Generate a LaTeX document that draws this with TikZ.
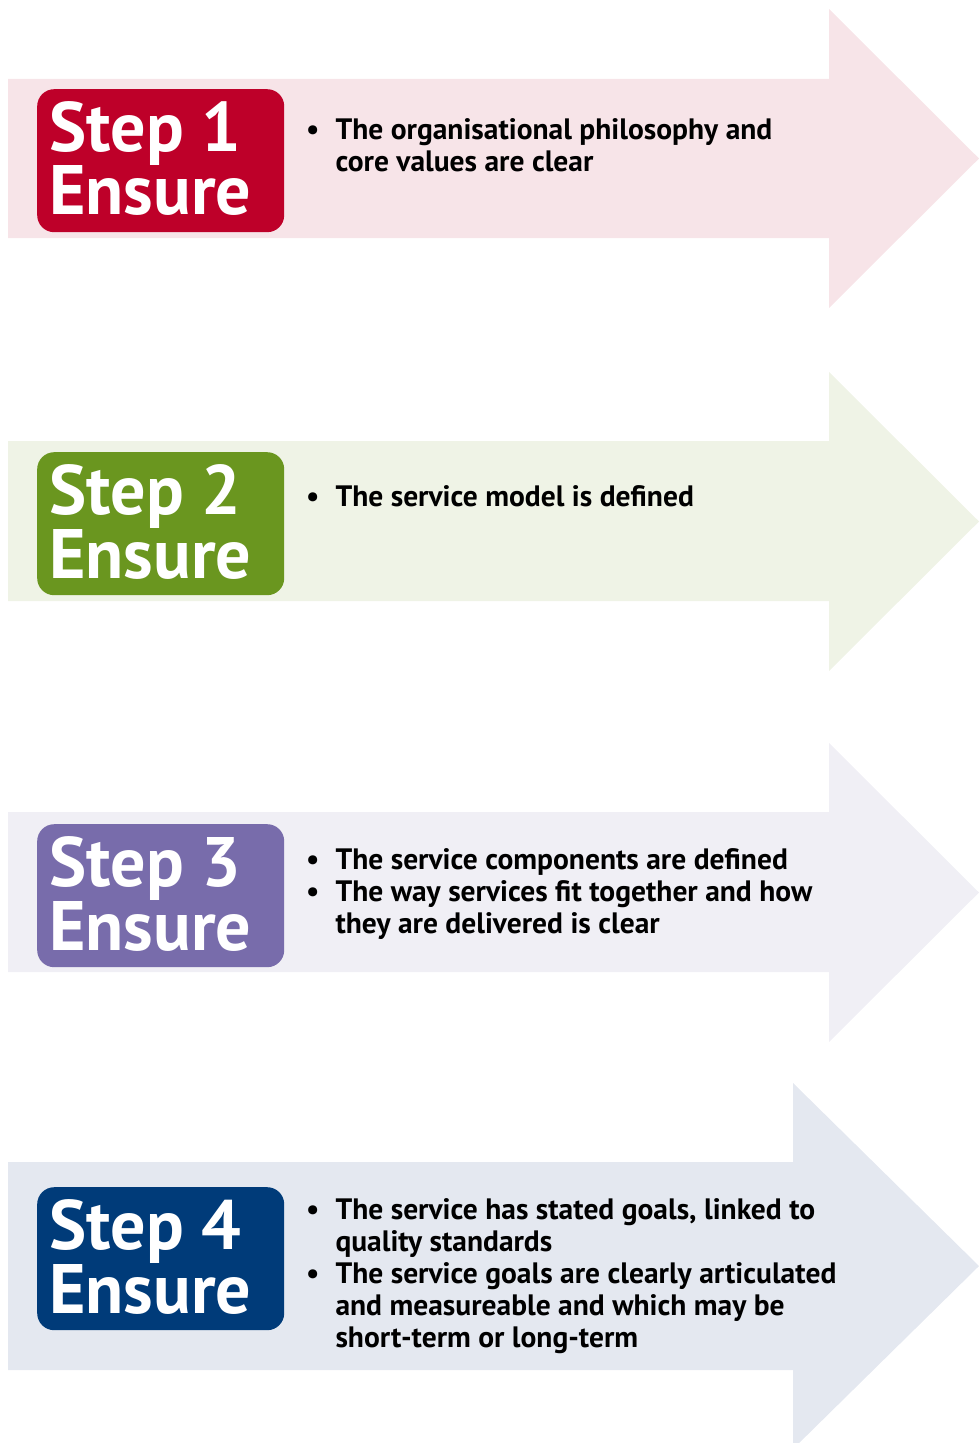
\documentclass[tikz,border=0pt]{standalone}
\usepackage{fontspec}
\setmainfont{PT Sans}
\usetikzlibrary{calc}
\definecolor{c1}{HTML}{BE0029}
\definecolor{b1}{HTML}{F7E4E8}
\definecolor{c2}{HTML}{6A961F}
\definecolor{b2}{HTML}{EFF3E6}
\definecolor{c3}{HTML}{786CAB}
\definecolor{b3}{HTML}{F0EFF5}
\definecolor{c4}{HTML}{003B79}
\definecolor{b4}{HTML}{E4E8F0}
\newcommand{\blist}[1]{\begin{tabular}[t]{@{}l@{\hspace{16bp}}l@{}}#1\end{tabular}}
\tikzset{
  stepbox/.style={draw=none, rounded corners=17bp, minimum width=247bp, minimum height=143bp, inner sep=0pt, anchor=north west},
  steptext/.style={text=white, font=\bfseries\fontsize{70bp}{59bp}\selectfont, anchor=base west, inner sep=0pt, align=left},
  bullettext/.style={text=black, font=\bfseries\fontsize{29.5bp}{32bp}\selectfont, anchor=base west, inner sep=0pt},
}
\begin{document}
\begin{tikzpicture}[x=1bp,y=-1bp]
\useasboundingbox (0,0) rectangle (979,1443);
\clip (0,0) rectangle (979,1443);
% arrows
\fill[b1] (8,79) -- (829,79) -- (829,9) -- (979,158.5) -- (829,308) -- (829,238) -- (8,238) -- cycle;
\fill[b2] (8,441) -- (829,441) -- (829,372) -- (979,521.5) -- (829,671) -- (829,601) -- (8,601) -- cycle;
\fill[b3] (8,812) -- (829,812) -- (829,743) -- (979,892.5) -- (829,1042) -- (829,972) -- (8,972) -- cycle;
\fill[b4] (8,1162) -- (793,1162) -- (793,1083) -- (979,1266) -- (793,1449) -- (793,1370) -- (8,1370) -- cycle;
% step boxes
\node[stepbox, fill=c1] (box1) at (37,89) {};
\node[stepbox, fill=c2] (box2) at (37,452) {};
\node[stepbox, fill=c3] (box3) at (37,824) {};
\node[stepbox, fill=c4] (box4) at (37,1187) {};
\node[steptext] (st1) at ($(box1.north west)+(12,126)$) {Step 1\\Ensure};
\node[steptext] (st2) at ($(box2.north west)+(12,126)$) {Step 2\\Ensure};
\node[steptext] (st3) at ($(box3.north west)+(12,126)$) {Step 3\\Ensure};
\node[steptext] (st4) at ($(box4.north west)+(12,126)$) {Step 4\\Ensure};
% bullet texts
\node[bullettext] (t1) at (306,140) {\blist{•&The organisational philosophy and\\ &core values are clear}};
\node[bullettext] (t2) at (306,506) {\blist{•&The service model is defined}};
\node[bullettext] (t3) at (306,869) {\blist{•&The service components are defined\\•&The way services fit together and how\\ &they are delivered is clear}};
\node[bullettext] (t4) at (306,1219) {\blist{•&The service has stated goals, linked to\\ &quality standards\\•&The service goals are clearly articulated\\ &and measureable and which may be\\ &short-term or long-term}};
\end{tikzpicture}
\end{document}
